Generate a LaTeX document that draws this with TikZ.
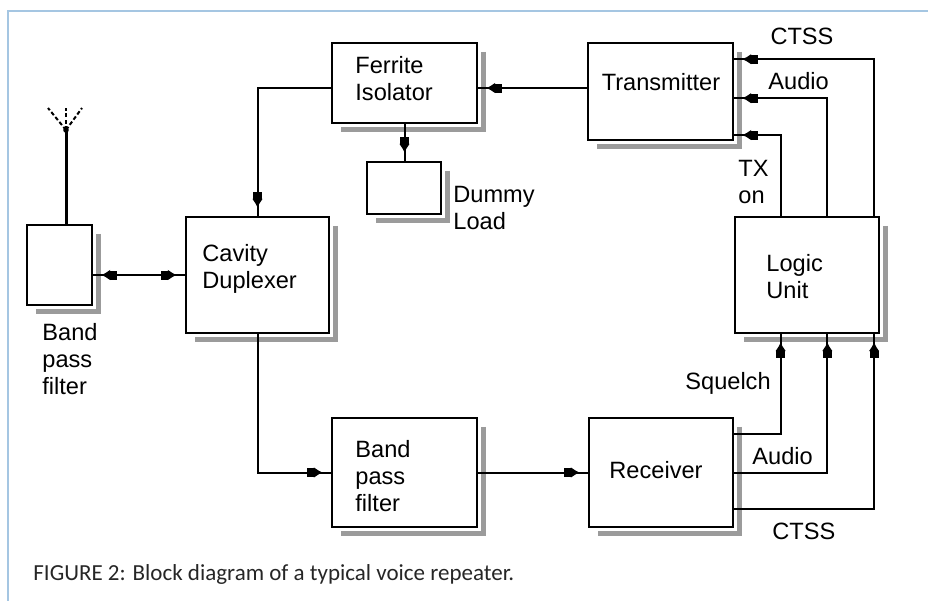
\documentclass[tikz,border=0pt]{standalone}
\usepackage{fontspec}
\newfontfamily\lblfont{Liberation Sans}
\newfontfamily\capfont{Carlito}
\usetikzlibrary{arrows.meta,positioning,calc,fit}
\definecolor{framecol}{RGB}{165,198,226}
\definecolor{shadowcol}{RGB}{155,155,155}
\tikzset{
  blk/.style={draw,line width=1.2pt,fill=white,inner sep=0pt},
  lbl/.style={font=\lblfont\fontsize{11.8}{13.5}\selectfont,align=left,inner sep=0pt},
  wire/.style={line width=1pt},
  arr/.style={wire,postaction={draw,shorten >=4pt,-{Rectangle[length=3.5pt,width=4.5pt] Latex[length=4.5pt,width=5.5pt]}}},
  darr/.style={wire,postaction={draw,shorten >=4pt,shorten <=4pt,
    {Latex[length=4.5pt,width=5.5pt] Rectangle[length=3.5pt,width=4.5pt]}-{Rectangle[length=3.5pt,width=4.5pt] Latex[length=4.5pt,width=5.5pt]}}},
  shade line/.style={shadowcol,line width=2.5pt}
}
\newcommand\boxshadow[1]{\draw[shade line] ($(#1.north east)+(5,10)$) -- ($(#1.south east)+(5,5)$) -- ($(#1.south west)+(10,5)$);}

\begin{document}
\begin{tikzpicture}[x=0.5pt,y=-0.5pt]
  \useasboundingbox (0,0) rectangle (928,601);
  % Frame
  \draw[framecol,line width=0.8pt] (928,11) -- (8,11) -- (8,601);

  % Blocks
  \node[blk,fit={(332,43)(477,123)}] (iso) {};
  \node[blk,fit={(588,43)(733,140)}] (tx) {};
  \node[blk,fit={(367,162)(441,214)}] (dummy) {};
  \node[blk,fit={(27,225)(92,305)}] (abpf) {};
  \node[blk,fit={(186,217)(329,333)}] (dup) {};
  \node[blk,fit={(332,418)(477,527)}] (bpf) {};
  \node[blk,fit={(589,418)(733,527)}] (rx) {};
  \node[blk,fit={(735,217)(879,333)}] (logic) {};
  \foreach \b in {iso,tx,dummy,abpf,dup,bpf,rx,logic} {\boxshadow{\b}}

  % Antenna
  \coordinate (ant) at (66,130);
  \draw[line width=1.5pt] (ant) -- (ant |- abpf.north);
  \foreach \dx in {-18,0,16} \draw[wire,dash pattern=on 2pt off 1.2pt] (ant) -- ++(\dx,-22);
  \fill (ant) circle (1.4pt);

  % Block texts
  \node[lbl,anchor=west] (isoLbl) at (355,79) {Ferrite\\Isolator};
  \node[lbl] (txLbl) at (661,82) {Transmitter};
  \node[lbl,anchor=west] (dummyLbl) at (453,208) {Dummy\\Load};
  \node[lbl,anchor=west] (abpfLbl) at (42,359) {Band\\pass\\filter};
  \node[lbl,anchor=west] (dupLbl) at (202,269) {Cavity\\Duplexer};
  \node[lbl,anchor=west] (bpfLbl) at (355,476) {Band\\pass\\filter};
  \node[lbl] (rxLbl) at (656,470) {Receiver};
  \node[lbl,anchor=west] (logicLbl) at (766,277) {Logic\\Unit};

  % Signal labels
  \node[lbl] (ctssTop) at (802,36) {CTSS};
  \node[lbl,anchor=west] (audioTop) at (768,81) {Audio};
  \node[lbl,anchor=west] (txOn) at (738,182) {TX\\on};
  \node[lbl,anchor=west] (sqLbl) at (685,383) {Squelch};
  \node[lbl,anchor=west] (audioBot) at (752,456) {Audio};
  \node[lbl,anchor=west] (ctssBot) at (772,531) {CTSS};

  % RF path
  \draw[arr] (tx.west |- 0,88) -- (iso.east |- 0,88);
  \draw[arr] (iso.west |- 0,88) -| (dup.north);
  \draw[arr] (iso.south) -- (iso.south |- dummy.north);
  \draw[darr] (abpf.east |- dup.west) -- (dup.west);
  \draw[arr] (dup.south) |- (bpf.west);
  \draw[arr] (bpf.east) -- (rx.west);

  % Control lines through the logic unit
  \foreach \p/\r/\t in {0.32/0.156/0.938, 0.639/0.5/0.567, 0.958/0.83/0.175} {
    \draw[arr] ($(rx.north east)!\r!(rx.south east)$) -| ($(logic.south west)!\p!(logic.south east)$);
    \draw[arr] ($(logic.north west)!\p!(logic.north east)$) |- ($(tx.north east)!\t!(tx.south east)$);
  }

  % Caption
  \node[font=\capfont\fontsize{11.5}{13}\selectfont,anchor=west,inner sep=0pt,text=black!85] (cap) at (33,574) {FIGURE 2: Block diagram of a typical voice repeater.};
\end{tikzpicture}
\end{document}
